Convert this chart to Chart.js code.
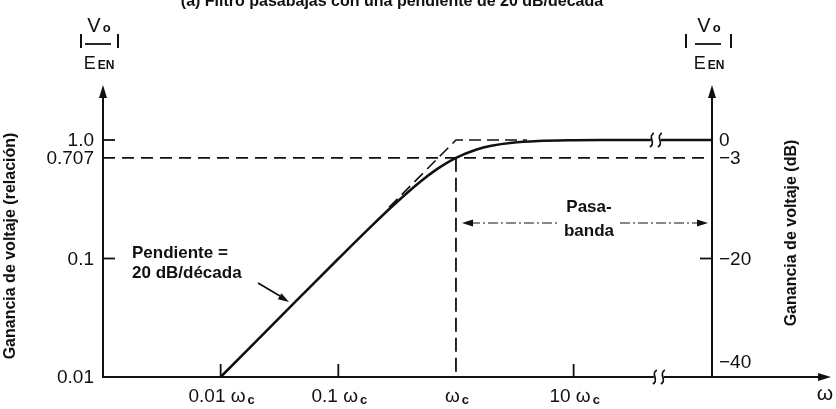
<!DOCTYPE html>
<html>
<head>
<meta charset="utf-8">
<script src="https://cdn.jsdelivr.net/npm/chart.js@4.4.1/dist/chart.umd.min.js"></script>
<style>
  html, body { margin: 0; padding: 0; background: #fff; }
  canvas { display: block; }
</style>
</head>
<body>
<canvas id="bodeChart" width="836" height="409"></canvas>
<script>
// frequency as multiples of wc, gain as the ratio |Vo/EEN|
const curveFreq = [0.01, 0.02, 0.05, 0.1, 0.2, 0.3, 0.5, 0.7, 1, 1.5, 2, 3, 5, 10, 20, 46];
const curveGain = [0.01, 0.02, 0.05, 0.0995, 0.196, 0.287, 0.447, 0.573, 0.707, 0.832, 0.894, 0.949, 0.981, 0.995, 0.999, 1.0];
const flatFreq = [55, 150];
const flatGain = [1.0, 1.0];
const asymFreq = [0.27, 1, 4];
const asymGain = [0.27, 1.0, 1.0];
const cutoffFreq = 1;
const cutoffGain = 0.707;
const freqRange = [0.001, 150];
const gainRange = [0.01, 2.8];
const breakFreq = 50;

const ratioTicks = [1.0, 0.707, 0.1, 0.01];
const ratioLabels = ["1.0", "0.707", "0.1", "0.01"];
const dbTicks = [0, -3, -20, -40];
const dbLabels = ["0", "\u22123", "\u221220", "\u221240"];
const freqTicks = [0.01, 0.1, 1, 10];
const freqLabels = ["0.01 \u03c9", "0.1 \u03c9", "\u03c9", "10 \u03c9"];

const FONT = "'Liberation Sans', Arial, Helvetica, sans-serif";
const INK = "#111";

function toPoints(xs, ys) {
    return xs.map((x, i) => ({ x: x, y: ys[i] }));
}

function arrowHead(ctx, x, y, angle, len, half) {
    ctx.save();
    ctx.translate(x, y);
    ctx.rotate(angle);
    ctx.beginPath();
    ctx.moveTo(0, 0);
    ctx.lineTo(-len, -half);
    ctx.lineTo(-len, half);
    ctx.closePath();
    ctx.fill();
    ctx.restore();
}

function seg(ctx, ax, ay, bx, by) {
    ctx.beginPath();
    ctx.moveTo(ax, ay);
    ctx.lineTo(bx, by);
    ctx.stroke();
}

function squiggle(ctx, cx, y) {
    // pair of little break marks, drawn on a white gap
    ctx.save();
    ctx.fillStyle = "#fff";
    ctx.fillRect(cx - 5, y - 3, 10, 6);
    ctx.lineWidth = 1.8;
    [cx - 4, cx + 4].forEach(sx => {
        ctx.beginPath();
        ctx.moveTo(sx + 2, y - 7);
        ctx.bezierCurveTo(sx - 5, y - 3, sx + 5, y + 3, sx - 2, y + 7);
        ctx.stroke();
    });
    ctx.restore();
}

function withSub(ctx, main, sub, cx, cy, mainSize, subSize, drop) {
    ctx.font = mainSize + "px " + FONT;
    const w1 = ctx.measureText(main).width;
    ctx.font = "bold " + subSize + "px " + FONT;
    const w2 = ctx.measureText(sub).width;
    const left = cx - (w1 + w2) / 2;
    ctx.textAlign = "left";
    ctx.textBaseline = "alphabetic";
    ctx.font = mainSize + "px " + FONT;
    ctx.fillText(main, left, cy);
    ctx.font = "bold " + subSize + "px " + FONT;
    ctx.fillText(sub, left + w1 + 2, cy + drop);
}

function gainFraction(ctx, cx, barL, barR) {
    ctx.fillStyle = INK;
    ctx.strokeStyle = INK;
    withSub(ctx, "V", "o", cx, 32, 20, 13, 0);
    ctx.lineWidth = 1.8;
    seg(ctx, cx - 13, 44, cx + 13, 44);
    withSub(ctx, "E", "EN", cx, 69, 18, 12, 0);
    ctx.lineWidth = 2;
    seg(ctx, barL, 34, barL, 48);
    seg(ctx, barR, 34, barR, 48);
}

const overlay = {
    id: "overlay",
    afterDatasetsDraw(chart) {
        const ctx = chart.ctx;
        const xs = chart.scales.x, ys = chart.scales.y, dbs = chart.scales.yDb;
        const a = chart.chartArea;
        ctx.save();
        ctx.strokeStyle = INK;
        ctx.fillStyle = INK;
        ctx.lineCap = "butt";

        // axes
        ctx.lineWidth = 2;
        seg(ctx, a.left, a.bottom + 1, a.left, a.top + 8);
        arrowHead(ctx, a.left, a.top - 2, -Math.PI / 2, 13, 4);
        seg(ctx, a.right, a.bottom + 1, a.right, a.top + 8);
        arrowHead(ctx, a.right, a.top - 2, -Math.PI / 2, 13, 4);
        seg(ctx, a.left - 1, a.bottom, 820, a.bottom);
        arrowHead(ctx, 831, a.bottom, 0, 13, 4);
        squiggle(ctx, xs.getPixelForValue(breakFreq) + 3, a.bottom);
        squiggle(ctx, xs.getPixelForValue(breakFreq), ys.getPixelForValue(1.0));

        // tick marks
        ctx.lineWidth = 1.8;
        [1.0, 0.1].forEach(v => {
            const py = ys.getPixelForValue(v);
            seg(ctx, a.left, py, a.left + 12, py);
        });
        [0, -20].forEach(v => {
            const py = dbs.getPixelForValue(v);
            seg(ctx, a.right - 12, py, a.right, py);
        });
        [0.01, 0.1, 10].forEach(v => {
            const px = xs.getPixelForValue(v);
            seg(ctx, px, a.bottom - 13, px, a.bottom);
        });

        // tick labels
        ctx.font = "19px " + FONT;
        ctx.textBaseline = "middle";
        ctx.textAlign = "right";
        ratioTicks.forEach((v, i) => {
            ctx.fillText(ratioLabels[i], 94, ys.getPixelForValue(v) + 1);
        });
        ctx.textAlign = "left";
        dbTicks.forEach((v, i) => {
            let py = dbs.getPixelForValue(v);
            if (v === -40) py -= 15;
            ctx.fillText(dbLabels[i], a.right + 7, py + 1);
        });
        freqTicks.forEach((v, i) => {
            withSub(ctx, freqLabels[i], "c", xs.getPixelForValue(v), 402, 19, 13, 2);
        });

        // passband arrow
        const pbY = 223;
        const pbL = xs.getPixelForValue(cutoffFreq) + 6;
        const pbR = a.right - 4;
        ctx.lineWidth = 1.2;
        ctx.setLineDash([10, 3, 2, 3]);
        seg(ctx, pbL + 8, pbY, 560, pbY);
        seg(ctx, 620, pbY, pbR - 8, pbY);
        ctx.setLineDash([]);
        arrowHead(ctx, pbL, pbY, Math.PI, 11, 3.5);
        arrowHead(ctx, pbR, pbY, 0, 11, 3.5);
        ctx.font = "bold 17px " + FONT;
        ctx.textAlign = "center";
        ctx.fillText("Pasa-", 589, 212);
        ctx.fillText("banda", 589, 236);

        // slope note
        ctx.textAlign = "left";
        ctx.fillText("Pendiente =", 132, 258);
        ctx.fillText("20 dB/d\u00e9cada", 132, 278);
        ctx.lineWidth = 1.8;
        seg(ctx, 258, 283, 280, 296);
        arrowHead(ctx, 289, 302, Math.atan2(19, 31), 11, 3.5);

        // gain fractions above both axes
        gainFraction(ctx, 98, 81, 118);
        gainFraction(ctx, 708, 686, 731);

        // axis titles
        ctx.font = "bold 16px " + FONT;
        ctx.textAlign = "center";
        ctx.textBaseline = "middle";
        ctx.save();
        ctx.translate(11, 246);
        ctx.rotate(-Math.PI / 2);
        ctx.fillText("Ganancia de voltaje (relaci\u00f3n)", 0, 0);
        ctx.restore();
        ctx.save();
        ctx.translate(792, 233);
        ctx.rotate(-Math.PI / 2);
        ctx.fillText("Ganancia de voltaje (dB)", 0, 0);
        ctx.restore();

        ctx.font = "21px " + FONT;
        ctx.fillText("\u03c9", 825, 394);

        // caption, cut off at the top edge of the scan
        ctx.font = "bold 16px " + FONT;
        ctx.textBaseline = "alphabetic";
        ctx.fillText("(a) Filtro pasabajas con una pendiente de 20 dB/d\u00e9cada", 392, 6);
        ctx.restore();
    }
};

const ctx = document.getElementById("bodeChart").getContext("2d");

new Chart(ctx, {
    type: "scatter",
    data: {
        datasets: [
            {
                label: "Respuesta",
                data: toPoints(curveFreq, curveGain),
                showLine: true, borderColor: INK, borderWidth: 2.6,
                pointRadius: 0, tension: 0.3, cubicInterpolationMode: "monotone"
            },
            {
                label: "Banda plana",
                data: toPoints(flatFreq, flatGain),
                showLine: true, borderColor: INK, borderWidth: 2.6, pointRadius: 0
            },
            {
                label: "Asintota",
                data: toPoints(asymFreq, asymGain),
                showLine: true, borderColor: INK, borderWidth: 1.6,
                borderDash: [12, 6], pointRadius: 0
            },
            {
                label: "-3 dB",
                data: toPoints(freqRange, [cutoffGain, cutoffGain]),
                showLine: true, borderColor: INK, borderWidth: 1.8,
                borderDash: [12, 7], pointRadius: 0
            },
            {
                label: "wc",
                data: toPoints([cutoffFreq, cutoffFreq], [cutoffGain, gainRange[0]]),
                showLine: true, borderColor: INK, borderWidth: 1.8,
                borderDash: [14, 6], pointRadius: 0
            }
        ]
    },
    options: {
        responsive: false,
        animation: false,
        devicePixelRatio: 1,
        layout: { padding: { left: 103, right: 124, top: 87, bottom: 32 } },
        plugins: { legend: { display: false }, tooltip: { enabled: false } },
        scales: {
            x: { type: "logarithmic", min: freqRange[0], max: freqRange[1], display: false },
            y: { type: "logarithmic", min: gainRange[0], max: gainRange[1], display: false },
            yDb: {
                type: "linear", position: "right", display: false,
                min: 20 * Math.log10(gainRange[0]), max: 20 * Math.log10(gainRange[1])
            }
        }
    },
    plugins: [overlay]
});
</script>
</body>
</html>
